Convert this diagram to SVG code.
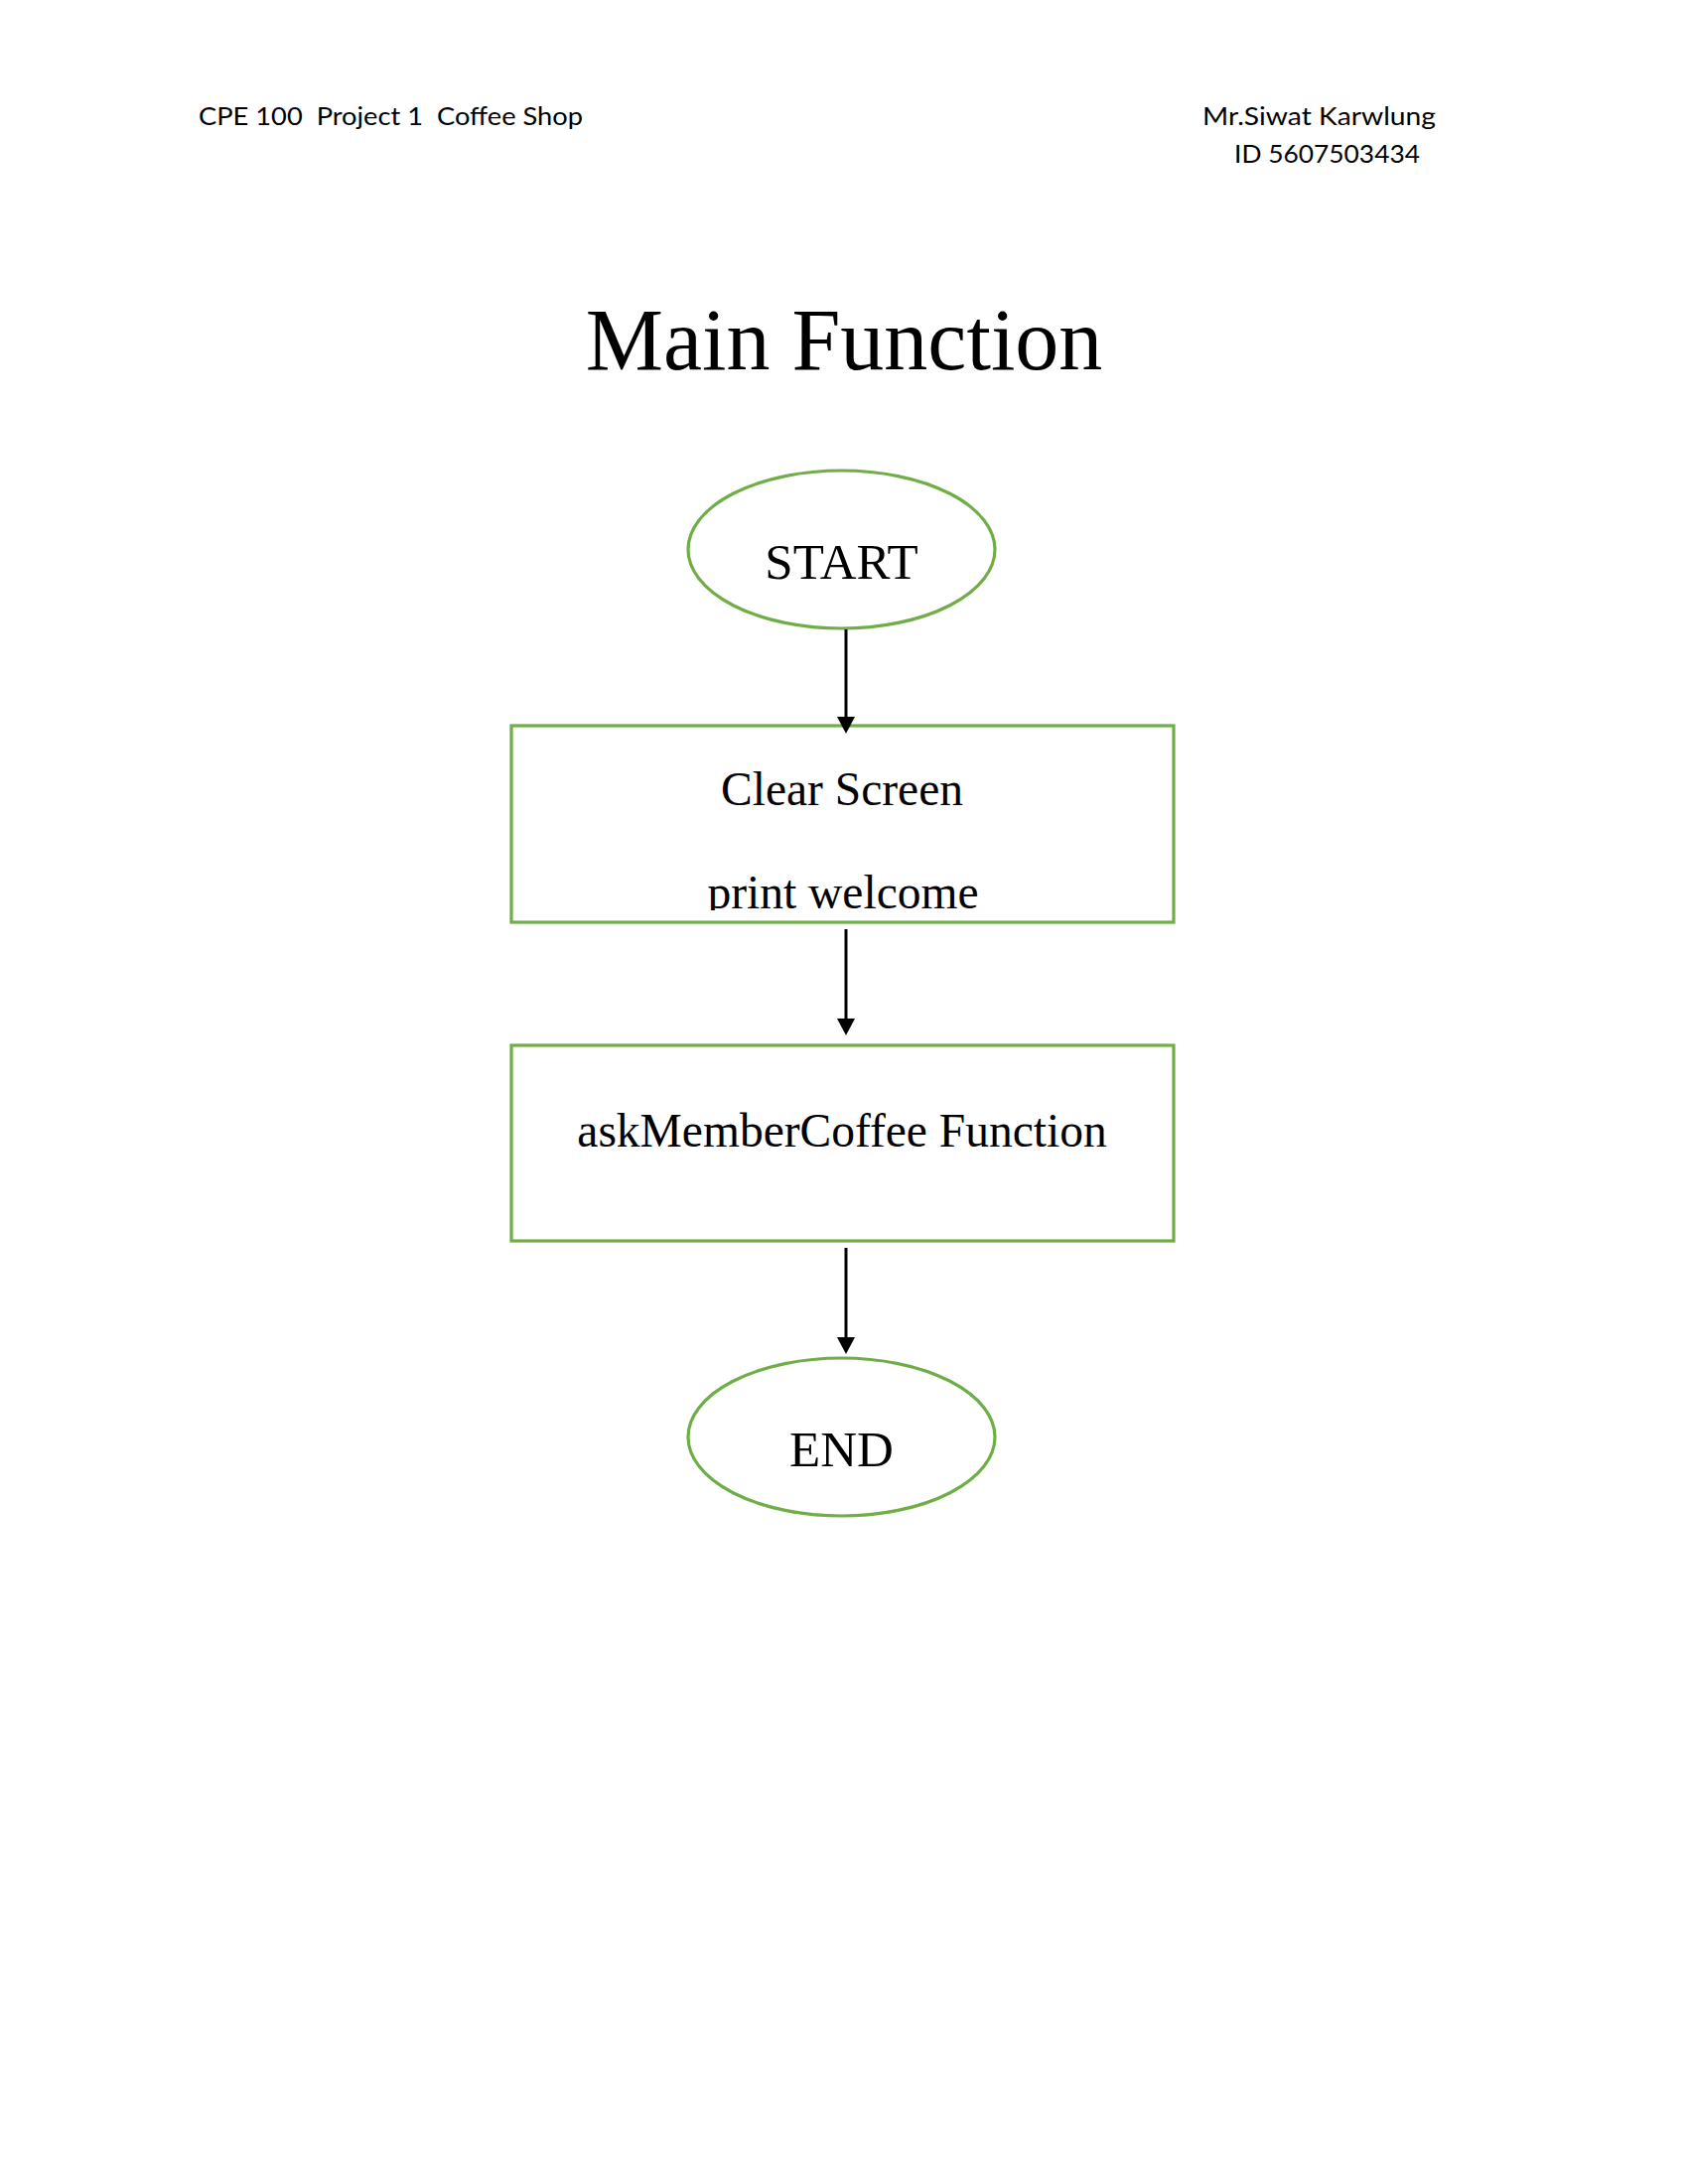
<svg xmlns="http://www.w3.org/2000/svg" width="1700" height="2200" viewBox="0 0 1700 2200">
<style>
.hdr{font-family:Lato,"Open Sans","Liberation Sans",sans-serif;font-size:25px;fill:#000}
.title{font-family:"Liberation Serif","Times New Roman",serif;font-size:88px;fill:#000}
.lbl{font-family:"Liberation Serif","Times New Roman",serif;font-size:47.5px;fill:#000;text-anchor:middle}
.term{font-family:"Liberation Serif","Times New Roman",serif;font-size:51px;fill:#000;text-anchor:middle}
.shape{fill:#fff;stroke:#70AD47;stroke-width:3.2}
.conn{stroke:#000;stroke-width:3;fill:none}
</style>
<defs>
<marker id="arrow" viewBox="0 0 17 18" markerWidth="17" markerHeight="18" refX="7" refY="9" orient="auto" markerUnits="userSpaceOnUse">
<path d="M0,0 L17,9 L0,18 Z" fill="#000"/>
</marker>
<clipPath id="clip1"><rect x="515" y="731" width="667" height="186"/></clipPath>
</defs>
<rect width="1700" height="2200" fill="#fff"/>
<g id="header">
<text class="hdr" x="200" y="126" textLength="387" lengthAdjust="spacingAndGlyphs" xml:space="preserve">CPE 100  Project 1  Coffee Shop</text>
<text class="hdr" x="1211" y="126" textLength="235" lengthAdjust="spacingAndGlyphs">Mr.Siwat Karwlung</text>
<text class="hdr" x="1243" y="164" textLength="187" lengthAdjust="spacingAndGlyphs">ID 5607503434</text>
</g>
<g id="title">
<text class="title" x="850" y="372" text-anchor="middle">Main Function</text>
</g>
<g id="start">
<ellipse class="shape" cx="847.5" cy="553.5" rx="154.5" ry="79.5"/>
<text class="term" x="847.5" y="583">START</text>
</g>
<g id="clear-screen">
<rect class="shape" x="515" y="731" width="667" height="198"/>
<text class="lbl" x="848" y="811">Clear Screen</text>
<text class="lbl" x="849" y="915" clip-path="url(#clip1)">print welcome</text>
</g>
<g id="ask-member-coffee">
<rect class="shape" x="515" y="1053" width="667" height="197"/>
<text class="lbl" x="848" y="1155">askMemberCoffee Function</text>
</g>
<g id="end">
<ellipse class="shape" cx="847.5" cy="1447.5" rx="154.5" ry="79.5"/>
<text class="term" x="847.5" y="1477">END</text>
</g>
<g id="connectors">
<line class="conn" x1="852" y1="634" x2="852" y2="729" marker-end="url(#arrow)"/>
<line class="conn" x1="852" y1="936" x2="852" y2="1033" marker-end="url(#arrow)"/>
<line class="conn" x1="852" y1="1257" x2="852" y2="1354" marker-end="url(#arrow)"/>
</g>
</svg>
